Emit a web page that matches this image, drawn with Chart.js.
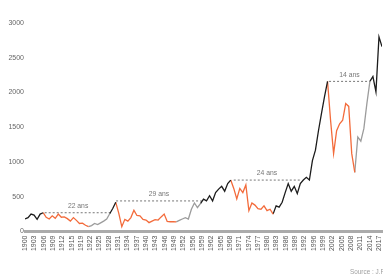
<!DOCTYPE html>
<html>
<head>
<meta charset="utf-8">
<script src="https://cdn.jsdelivr.net/npm/chart.js@4.4.1/dist/chart.umd.min.js"></script>
<style>
  html, body { margin: 0; padding: 0; background: #fff; overflow: hidden; }
  #wrap { width: 383px; height: 277px; position: relative; }
  canvas { display: block; }
</style>
</head>
<body>
<div id="wrap"><canvas id="myChart"></canvas></div>
<script>
// Indice, valeurs annuelles

const years = [];
for (let y = 1900; y <= 2018; y++) years.push(y);

const values = [
  180, 200, 250, 235, 175, 250, 270, 205, 180, 225,   // 1900-1909
  190, 250, 205, 210, 185, 150, 200, 160, 115, 120,   // 1910-1919
  90, 70, 85, 115, 100, 125, 150, 180, 255, 330,      // 1920-1929
  420, 260, 70, 175, 150, 200, 305, 230, 225, 175,    // 1930-1939
  165, 128, 150, 170, 165, 210, 250, 145, 140, 140,   // 1940-1949
  138, 160, 180, 200, 180, 320, 410, 345, 400, 465,   // 1950-1959
  440, 515, 440, 560, 610, 650, 580, 690, 740, 620,   // 1960-1969
  470, 620, 560, 670, 300, 410, 380, 330, 320, 370,   // 1970-1979
  300, 320, 250, 370, 350, 420, 560, 690, 580, 650,   // 1980-1989
  545, 690, 740, 780, 740, 1020, 1170, 1450, 1700, 1940, // 1990-1999
  2160, 1600, 1120, 1450, 1550, 1600, 1840, 1800, 1120, 850, // 2000-2009
  1360, 1300, 1480, 1840, 2160, 2230, 2010, 2800, 2660  // 2010-2018
];

// phases : hausse (noir), baisse (orange), reprise (gris)
const phaseStart = [1900, 1906, 1921, 1928, 1930, 1950, 1958, 1968, 1982, 2000, 2009, 2014];
const phaseEnd   = [1906, 1921, 1928, 1930, 1950, 1958, 1968, 1982, 2000, 2009, 2014, 2018];
const phaseKind  = ['hausse', 'baisse', 'reprise', 'hausse', 'baisse', 'reprise',
                    'hausse', 'baisse', 'hausse', 'baisse', 'reprise', 'hausse'];

// durée pour retrouver le sommet précédent
const gapStart = [1906.5, 1930.1, 1969, 2000.5];
const gapEnd   = [1928.6, 1958.5, 1991, 2014];
const gapLevel = [270, 440, 740, 2160];
const gapLabel = ['22 ans', '29 ans', '24 ans', '14 ans'];

// étiquettes de l'axe des x
const tickLabels = ['1900','1903','1906','1909','1912','1915','1919','1922','1925','1928',
  '1931','1934','1937','1940','1943','1946','1949','1952','1956','1959','1962','1965',
  '1968','1971','1974','1977','1980','1983','1986','1989','1992','1996','1999','2002',
  '2005','2008','2011','2014','2017'];

const kindColor = { hausse: '#1c1c1c', baisse: '#f36b3b', reprise: '#9c9c9c' };
const FONT = "'Liberation Sans Narrow', 'Liberation Sans', Arial, sans-serif";

const datasets = [];

phaseStart.forEach((s, i) => {
  const pts = [];
  years.forEach((yr, k) => {
    if (yr >= s && yr <= phaseEnd[i]) pts.push({x: yr, y: values[k]});
  });
  datasets.push({
    data: pts,
    borderColor: kindColor[phaseKind[i]],
    borderWidth: 1.3,
    pointRadius: 0,
    fill: false,
    tension: 0,
  });
});

gapStart.forEach((s, i) => {
  datasets.push({
    data: [{x: s, y: gapLevel[i]}, {x: gapEnd[i], y: gapLevel[i]}],
    borderColor: '#777',
    borderWidth: 1,
    borderDash: [2, 2],
    pointRadius: 0,
    fill: false,
  });
});

// texte étroit (police condensée simulée)
function narrowText(ctx, txt, x, y, sx) {
  ctx.save();
  ctx.translate(x, y);
  ctx.scale(sx, 1);
  ctx.fillText(txt, 0, 0);
  ctx.restore();
}

// texte des durées + source
const annotations = {
  id: 'annotations',
  afterDatasetsDraw(chart) {
    const {ctx, scales} = chart;
    ctx.save();
    ctx.font = '8px ' + FONT;
    ctx.fillStyle = '#777';
    ctx.textAlign = 'center';
    ctx.textBaseline = 'bottom';
    gapLabel.forEach((lbl, i) => {
      const x = scales.x.getPixelForValue((gapStart[i] + gapEnd[i]) / 2);
      const y = scales.y.getPixelForValue(gapLevel[i]) - 3;
      narrowText(ctx, lbl, x, y, 0.85);
    });
    ctx.font = '7.5px ' + FONT;
    ctx.textAlign = 'left';
    ctx.textBaseline = 'middle';
    ctx.fillStyle = '#a0a0a0';
    narrowText(ctx, 'Source : J.P. Morgan', 350, 272, 0.85);
    ctx.restore();
  }
};

const config = {
  type: 'line',
  data: { datasets: datasets },
  options: {
    animation: false,
    responsive: true,
    maintainAspectRatio: false,
    plugins: {
      legend: { display: false },
      tooltip: { enabled: false },
    },
    layout: {
      padding: { top: 23, right: 1, bottom: 0, left: 0 }
    },
    scales: {
      x: {
        type: 'linear',
        min: 1900,
        max: 2018,
        grid: { display: false, drawTicks: false },
        border: { display: true, color: '#ababab', width: 3 },
        afterBuildTicks: (scale) => {
          scale.ticks = tickLabels.map((t, i) => ({ value: 1900 + i * 117 / 38 }));
        },
        afterFit: (scale) => {
          scale.height = 45.5;
          scale.paddingLeft = 0;
          scale.paddingRight = 0;
        },
        ticks: {
          autoSkip: false,
          minRotation: 90,
          maxRotation: 90,
          padding: 4,
          color: '#555',
          font: { size: 7, family: FONT },
          callback: (v, i) => tickLabels[i],
        }
      },
      y: {
        min: 0,
        max: 3000,
        grid: { display: false, drawTicks: false },
        border: { display: false },
        afterFit: (scale) => {
          scale.width = 25;
          scale.paddingTop = 0;
          scale.paddingBottom = 0;
        },
        ticks: {
          stepSize: 500,
          padding: 1,
          color: '#666',
          font: { size: 7, family: FONT },
          callback: (v) => String(v),
        }
      }
    }
  },
  plugins: [annotations]
};

const ctx = document.querySelector('#myChart');
let myChart = new Chart(ctx, config);
</script>
</body>
</html>
